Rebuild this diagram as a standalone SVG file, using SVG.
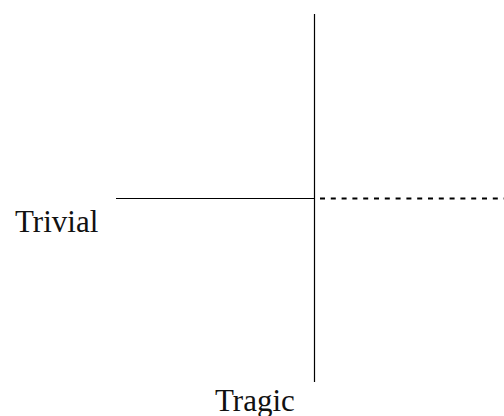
<svg xmlns="http://www.w3.org/2000/svg" width="504" height="416" viewBox="0 0 504 416">
<style>
.ln{stroke:#000;stroke-width:1.2;fill:none}
.dash{stroke:#000;stroke-width:2;stroke-dasharray:5 5.8;fill:none}
.lbl{font-family:"Liberation Serif","Times New Roman",serif;font-size:31px;fill:#111}
</style>
<rect width="504" height="416" fill="#fff"/>
<g id="connectors">
<line class="ln" x1="314.5" y1="14" x2="314.5" y2="382"/>
<line class="ln" x1="116" y1="198.5" x2="314.5" y2="198.5"/>
<line class="dash" x1="320" y1="198.5" x2="504" y2="198.5"/>
</g>
<g id="trivial"><text class="lbl" x="15" y="231.5">Trivial</text></g>
<g id="tragic"><text class="lbl" x="215" y="410.5">Tragic</text></g>
</svg>
